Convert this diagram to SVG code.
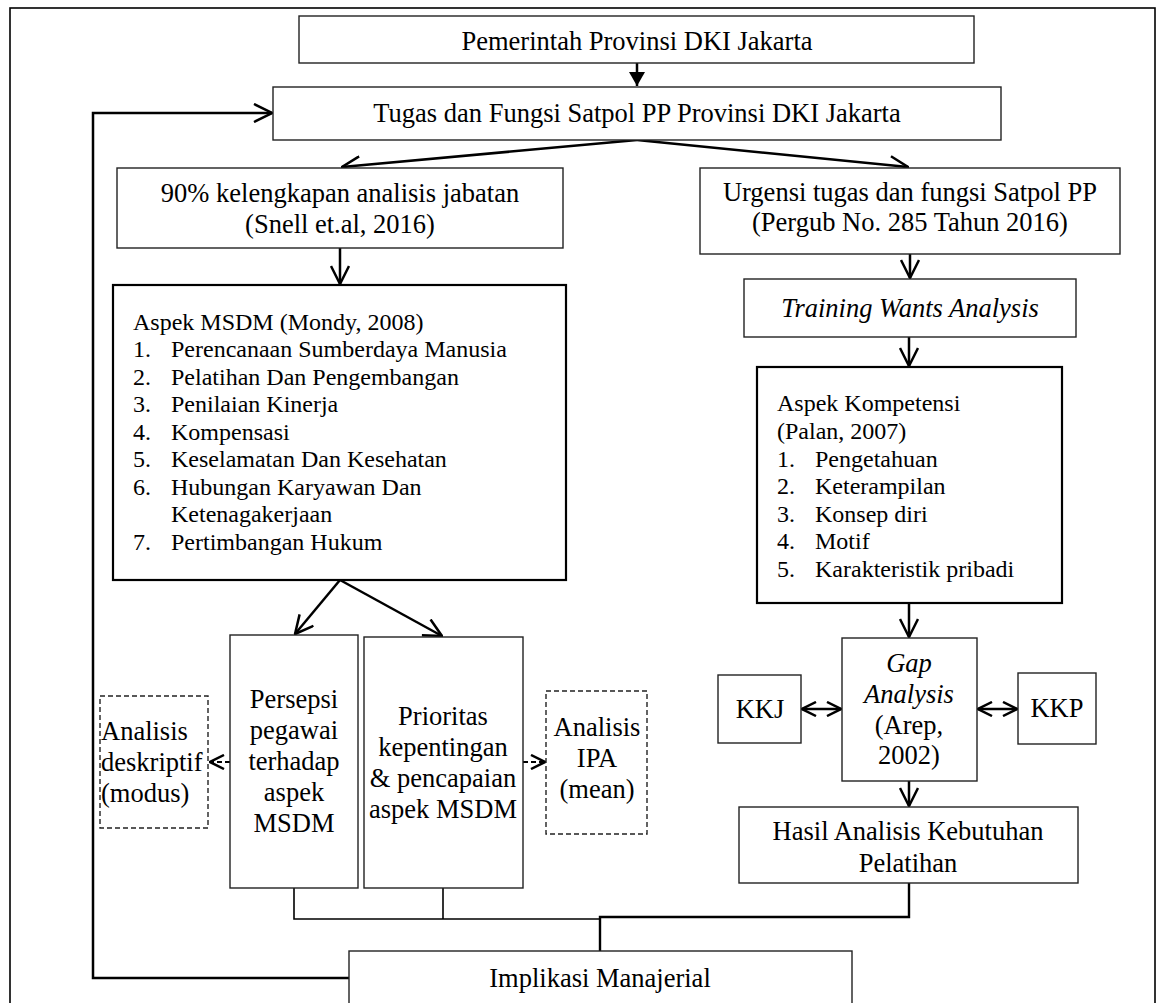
<svg xmlns="http://www.w3.org/2000/svg" width="1164" height="1003" viewBox="0 0 1164 1003">
<style>
text{font-family:"Liberation Serif","Times New Roman",serif;fill:#000;}
.t{font-size:26.5px;}
.s{font-size:24px;}
.c{text-anchor:middle;}
.i{font-style:italic;}
.box{fill:#fff;stroke:#222;stroke-width:1.4;}
.bold{fill:#fff;stroke:#000;stroke-width:2.2;}
.dash{fill:#fff;stroke:#222;stroke-width:1.4;stroke-dasharray:5,3;}
.ar{fill:none;stroke:#000;stroke-width:2.5;}
.ln{fill:none;stroke:#000;stroke-width:1.6;}
.lnb{fill:none;stroke:#000;stroke-width:2.4;}
.da{fill:none;stroke:#000;stroke-width:2.2;stroke-dasharray:5,3;}
</style>
<defs>
<marker id="open" viewBox="0 0 20 20" markerWidth="20" markerHeight="20" refX="19" refY="10" orient="auto" markerUnits="userSpaceOnUse">
<path d="M1,1 L19,10 L1,19" fill="none" stroke="#000" stroke-width="2.5"/>
</marker>
<marker id="opens" viewBox="0 0 16 16" markerWidth="16" markerHeight="16" refX="15" refY="8" orient="auto-start-reverse" markerUnits="userSpaceOnUse">
<path d="M1,1 L15,8 L1,15" fill="none" stroke="#000" stroke-width="2.5"/>
</marker>
<marker id="fill" viewBox="0 0 14 16" markerWidth="14" markerHeight="16" refX="14" refY="8" orient="auto" markerUnits="userSpaceOnUse">
<path d="M0,0 L14,8 L0,16 Z" fill="#000"/>
</marker>
</defs>
<rect x="10" y="8" width="1145" height="1010" fill="none" stroke="#000" stroke-width="1.6"/>
<g id="connectors">
<line class="ar" x1="637" y1="63" x2="637" y2="86" marker-end="url(#fill)"/>
<polyline class="ar" points="349,978 93,978 93,113 272,113" marker-end="url(#open)"/>
<line class="ar" x1="637" y1="140" x2="342" y2="167" marker-end="url(#open)"/>
<line class="ar" x1="637" y1="140" x2="908" y2="167" marker-end="url(#open)"/>
<line class="ar" x1="340" y1="248" x2="340" y2="284" marker-end="url(#open)"/>
<line class="ar" x1="910" y1="254" x2="910" y2="278" marker-end="url(#open)"/>
<line class="ar" x1="909" y1="337" x2="909" y2="366" marker-end="url(#open)"/>
<line class="ar" x1="340" y1="580" x2="295" y2="634" marker-end="url(#open)"/>
<line class="ar" x1="340" y1="580" x2="442" y2="636" marker-end="url(#open)"/>
<line class="ar" x1="909" y1="603" x2="909" y2="637" marker-end="url(#open)"/>
<line class="ar" x1="909" y1="781" x2="909" y2="806" marker-end="url(#open)"/>
<line class="da" x1="230" y1="762" x2="210" y2="762" marker-end="url(#opens)"/>
<line class="da" x1="523" y1="762" x2="545" y2="762" marker-end="url(#opens)"/>
<line class="ar" x1="802" y1="709" x2="841" y2="709" marker-start="url(#opens)" marker-end="url(#opens)"/>
<line class="ar" x1="978" y1="709" x2="1017" y2="709" marker-start="url(#opens)" marker-end="url(#opens)"/>
<polyline class="ln" points="294,888 294,919 600,919"/>
<line class="ln" x1="443" y1="888" x2="443" y2="919"/>
<polyline class="lnb" points="600,951 600,917 909,917 909,883"/>
</g>
<g id="n1">
<rect class="box" x="299" y="16" width="675" height="47"/>
<text class="t c" x="637" y="50">Pemerintah Provinsi DKI Jakarta</text>
</g>
<g id="n2">
<rect class="box" x="273" y="87" width="728" height="53"/>
<text class="t c" x="637" y="122">Tugas dan Fungsi Satpol PP Provinsi DKI Jakarta</text>
</g>
<g id="n3">
<rect class="box" x="117" y="168" width="446" height="80"/>
<text class="t c" x="340" y="202">90% kelengkapan analisis jabatan</text>
<text class="t c" x="340" y="233">(Snell et.al, 2016)</text>
</g>
<g id="n4">
<rect class="box" x="700" y="168" width="420" height="86"/>
<text class="t c" x="910" y="201">Urgensi tugas dan fungsi Satpol PP</text>
<text class="t c" x="910" y="231">(Pergub No. 285 Tahun 2016)</text>
</g>
<g id="n5">
<rect class="bold" x="113" y="285" width="453" height="295"/>
<text class="s" x="133" y="330">Aspek MSDM (Mondy, 2008)</text>
<text class="s" x="133" y="357">1.</text><text class="s" x="171" y="357">Perencanaan Sumberdaya Manusia</text>
<text class="s" x="133" y="385">2.</text><text class="s" x="171" y="385">Pelatihan Dan Pengembangan</text>
<text class="s" x="133" y="412">3.</text><text class="s" x="171" y="412">Penilaian Kinerja</text>
<text class="s" x="133" y="440">4.</text><text class="s" x="171" y="440">Kompensasi</text>
<text class="s" x="133" y="467">5.</text><text class="s" x="171" y="467">Keselamatan Dan Kesehatan</text>
<text class="s" x="133" y="495">6.</text><text class="s" x="171" y="495">Hubungan Karyawan Dan</text>
<text class="s" x="171" y="522">Ketenagakerjaan</text>
<text class="s" x="133" y="550">7.</text><text class="s" x="171" y="550">Pertimbangan Hukum</text>
</g>
<g id="n6">
<rect class="box" x="744" y="279" width="332" height="58"/>
<text class="t c i" x="910" y="317">Training Wants Analysis</text>
</g>
<g id="n7">
<rect class="bold" x="757" y="367" width="305" height="236"/>
<text class="s" x="777" y="411">Aspek Kompetensi</text>
<text class="s" x="777" y="439">(Palan, 2007)</text>
<text class="s" x="777" y="467">1.</text><text class="s" x="815" y="467">Pengetahuan</text>
<text class="s" x="777" y="494">2.</text><text class="s" x="815" y="494">Keterampilan</text>
<text class="s" x="777" y="522">3.</text><text class="s" x="815" y="522">Konsep diri</text>
<text class="s" x="777" y="549">4.</text><text class="s" x="815" y="549">Motif</text>
<text class="s" x="777" y="577">5.</text><text class="s" x="815" y="577">Karakteristik pribadi</text>
</g>
<g id="n8">
<rect class="box" x="230" y="635" width="128" height="253"/>
<text class="t c" x="294" y="708">Persepsi</text>
<text class="t c" x="294" y="739">pegawai</text>
<text class="t c" x="294" y="770">terhadap</text>
<text class="t c" x="294" y="801">aspek</text>
<text class="t c" x="294" y="832">MSDM</text>
</g>
<g id="n9">
<rect class="box" x="364" y="637" width="159" height="251"/>
<text class="t c" x="443" y="725">Prioritas</text>
<text class="t c" x="443" y="756">kepentingan</text>
<text class="t c" x="443" y="787">&amp; pencapaian</text>
<text class="t c" x="443" y="818">aspek MSDM</text>
</g>
<g id="n10">
<rect class="dash" x="100" y="696" width="108" height="132"/>
<text class="t" x="101" y="740">Analisis</text>
<text class="t" x="101" y="771">deskriptif</text>
<text class="t" x="101" y="802">(modus)</text>
</g>
<g id="n11">
<rect class="dash" x="546" y="691" width="101" height="143"/>
<text class="t c" x="597" y="736">Analisis</text>
<text class="t c" x="597" y="767">IPA</text>
<text class="t c" x="597" y="798">(mean)</text>
</g>
<g id="n12">
<rect class="box" x="842" y="638" width="135" height="143"/>
<text class="t c i" x="909" y="672">Gap</text>
<text class="t c i" x="909" y="703">Analysis</text>
<text class="t c" x="909" y="734">(Arep,</text>
<text class="t c" x="909" y="764">2002)</text>
</g>
<g id="n13">
<rect class="box" x="718" y="675" width="83" height="68"/>
<text class="t c" x="760" y="718">KKJ</text>
</g>
<g id="n14">
<rect class="box" x="1018" y="673" width="78" height="71"/>
<text class="t c" x="1057" y="717">KKP</text>
</g>
<g id="n15">
<rect class="box" x="739" y="807" width="339" height="76"/>
<text class="t c" x="908" y="840">Hasil Analisis Kebutuhan</text>
<text class="t c" x="908" y="872">Pelatihan</text>
</g>
<g id="n16">
<rect class="box" x="349" y="951" width="503" height="70"/>
<text class="t c" x="600" y="987">Implikasi Manajerial</text>
</g>
</svg>
